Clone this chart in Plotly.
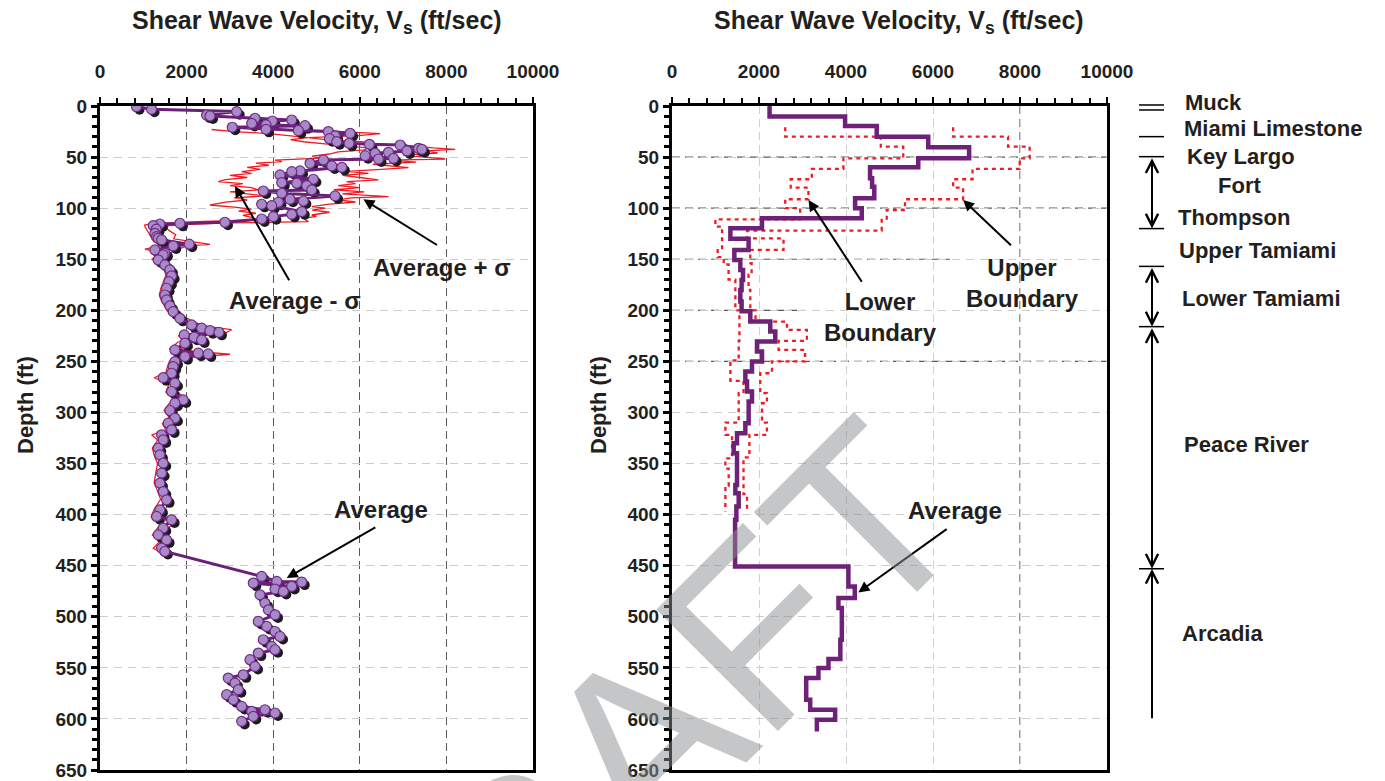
import plotly.graph_objects as go

W, H = 1385, 781

# ---------------- Left panel data: measured average Vs profile ----------------
avg_depth = [0.7, 3.2, 5.5, 8.8, 9.8, 12, 13.7, 14.7, 17, 18.6, 19.3, 20.8, 22.8, 24, 25, 26.7,
             29.3, 32, 34.9, 36.5, 37.5, 38.2, 41.4, 42.4, 44, 45.3, 46.3, 48.6, 51.2, 51.9, 52.8,
             56.1, 58.7, 60, 63.6, 64.3, 67.5, 71.7, 75, 75.6, 78, 82.2, 83.2, 85.4, 88, 91.3, 93,
             94.2, 96.2, 97.5, 103.4, 106, 108.3, 110.6, 113.8, 114.8, 115.5, 117.1, 120.5, 124.6,
             127.9, 129.5, 131.1, 135.3, 137, 140.9, 144.2, 145.8, 150.7, 155.6, 160.5, 166.3,
             171.9, 178.4, 185, 189.8, 195.7, 201.3, 207.8, 214.3, 217.5, 219.9, 221.5, 224.1,
             226.3, 229, 232.2, 238.8, 242, 242.7, 245.3, 250.2, 255.1, 261.6, 265.9, 271.3,
             279.5, 287.7, 290.9, 298.1, 305.6, 310.5, 317, 321.9, 326.8, 334.9, 341.5, 349.6,
             359.4, 369.2, 377.4, 385.5, 395.3, 401.8, 405.1, 413.2, 419.8, 424.7, 432.8, 436.1,
             460.5, 465.4, 466, 467, 470.3, 472.9, 475.2, 478.5, 486.6, 493.2, 498.1, 504.6,
             509.5, 514.4, 519.3, 522.5, 529, 532.3, 535.5, 542, 548.6, 556.8, 560, 564.9, 571.4,
             576.3, 581.2, 587.8, 591, 592.7, 594.2, 597.5, 602.4]
avg_vs = [843, 1190, 3156, 2462, 2540, 3580, 4428, 3980, 3503, 3834, 4735, 3054, 3834, 4580, 5274, 5776,
          5429, 5300, 5468, 5753, 6222, 6932, 7355, 7433, 7087, 6662, 6354, 6123, 6778, 6431, 5159,
          4851, 5353, 5584, 4620, 4428, 4157, 4927, 4196, 4543, 4774, 4890, 3771, 4196, 5429, 4389, 4696,
          4118, 3734, 3965, 4659, 4428, 4003, 3734, 2886, 1845, 1383, 1228, 1300, 1267,
          1306, 1344, 1422, 2060, 1690, 1267, 1498, 1459, 1344, 1498, 1614, 1653,
          1591, 1537, 1498, 1537, 1614, 1690, 1845, 2116, 2347, 2538, 2746, 1945,
          2176, 2347, 1961, 1730, 2268, 2500, 1961, 1730, 1690, 1653, 1459, 1730,
          1653, 1922, 1730, 1614, 1730, 1575, 1653, 1422, 1459, 1344, 1383, 1459,
          1422, 1383, 1459, 1537, 1383, 1306, 1653, 1459, 1344, 1537, 1422, 1498,
          3734, 4081, 4659, 3540, 4428, 4042, 4234, 3695, 3810, 3888, 4042, 3656,
          3849, 4042, 4157, 3771, 3965, 4042, 3656, 3464, 3580, 3309, 2962, 3117, 3194,
          2925, 3078, 3272, 3810, 3503, 4042, 3540, 3272]

# Average + sigma
plus_depth = [23, 25, 27, 29, 31, 33, 35, 37, 39, 41, 42.5, 44, 46, 48, 50, 51.9, 53, 55, 57, 60.4,
              62, 64, 66, 68, 70, 72.4, 74, 76, 78, 80, 82, 84, 86, 88.7, 90, 92, 94, 96, 98.5, 100,
              102, 104, 106.7, 108, 110, 113.2, 114.5, 115.5, 117, 118, 122, 126, 130, 133, 135.5,
              137, 140, 143, 146, 150, 155, 160, 166, 172, 178, 185, 190, 196, 201, 207, 212, 216,
              219, 222, 225, 228, 231, 235, 238, 240, 243, 246, 250, 255, 261, 266, 272, 280, 288,
              291, 298, 305, 311, 317, 322, 327, 335, 342, 350, 359, 369, 377, 385, 395, 402, 405,
              413, 420, 425, 433, 436]
plus_vs = [4600, 5500, 6470, 5968, 4812, 5200, 6046, 6300, 7200, 7700, 8203, 7500, 7800, 7000, 7600,
           7972, 6700, 7300, 6300, 7124, 6500, 5700, 6200, 5600, 6000, 6431, 5700, 5900, 5500, 6000,
           5400, 6100, 5600, 6662, 5800, 5500, 5900, 5300, 4890, 5200, 4900, 5300, 4890, 5000, 4700,
           4812, 3000, 2200, 1600, 1500, 1600, 1750, 1700, 2200, 2539, 2000, 1800, 1650, 1600, 1480,
           1620, 1740, 1780, 1700, 1650, 1620, 1650, 1740, 1820, 1980, 2200, 2500, 3040, 2900, 2250,
           2500, 2100, 1980, 1850, 2150, 3000, 2100, 1850, 1800, 1780, 1580, 1860, 1780, 2050, 1850,
           1730, 1850, 1700, 1780, 1540, 1580, 1460, 1500, 1580, 1540, 1500, 1580, 1660, 1500, 1420,
           1770, 1580, 1460, 1660, 1540, 1620]

# Average - sigma
minus_depth = [23, 25, 27, 29, 31, 33, 35, 37, 39, 41, 43, 45, 47, 49, 51, 53, 54.5, 56, 58, 60, 62,
               64.3, 66, 68, 70, 72, 74.1, 76, 78, 80, 82.2, 84, 86, 88, 90, 92, 94, 96.9, 99, 101,
               103, 105, 107, 109, 111.5, 113, 115, 116.4, 118, 122, 126, 130, 133, 135.5, 137, 140,
               143, 146, 150, 155, 160, 166, 172, 178, 185, 190, 196, 201, 207, 212, 216, 219, 222,
               225, 228, 231, 235, 238, 240, 243, 246, 250, 255, 261, 266, 272, 280, 288, 291, 298,
               305, 311, 317, 322, 327, 335, 342, 350, 359, 369, 377, 385, 395, 402, 405, 413, 420,
               425, 433, 436]
minus_vs = [2578, 3100, 3900, 4300, 4800, 4400, 4700, 5200, 5600, 6200, 6100, 5500, 5300, 4900, 5100,
            4042, 4200, 3600, 3900, 3400, 3700, 3272, 3500, 3000, 3400, 2900, 2731, 3300, 3000, 3500,
            3656, 3000, 3400, 3800, 3100, 3400, 2900, 2539, 3100, 3500, 3200, 3600, 3300, 3500, 3580,
            2400, 1500, 1036, 1036, 1100, 1150, 1200, 1250, 1500, 1400, 1036, 1330, 1330, 1200, 1370,
            1490, 1520, 1460, 1410, 1370, 1410, 1490, 1560, 1710, 1850, 2150, 2250, 2500, 1800, 2150,
            1800, 1700, 1600, 1850, 2200, 1820, 1600, 1560, 1520, 1250, 1600, 1520, 1780, 1600, 1480,
            1600, 1440, 1520, 1200, 1330, 1210, 1250, 1330, 1290, 1250, 1330, 1400, 1250, 1180, 1520,
            1330, 1210, 1400, 1230, 1370]

# ---------------- Right panel data: layered profiles (layer top depth, Vs) ----------------
avg_layer_top = [0, 10.4, 19.6, 30, 40.4, 51.2, 60, 70.7, 79, 90.3, 100, 109.9, 119.7, 130, 140.9,
                 150.7, 160.5, 170.3, 180, 191.5, 201, 211, 220.8, 230.6, 240.4, 250.2, 260, 269.8,
                 279.5, 289.3, 310.6, 320.3, 330.1, 339.9, 371, 379, 392, 405, 450.8, 470.3, 481.7,
                 491.5, 522.5, 541.4, 550.2, 560, 581.2, 591, 600.8, 612.2]
avg_layer_vs = [2243, 3979, 4706, 5890, 6830, 5661, 4553, 4600, 4650, 4209, 4362, 2069, 1342, 1761, 1433,
                1571, 1633, 1600, 1571, 1600, 1800, 2259, 2374, 1954, 2069, 1839, 1686, 1725,
                1839, 1762, 1686, 1495, 1418, 1495, 1456, 1533, 1480, 1450, 4055, 4202, 3826,
                3904, 3870, 3597, 3367, 3085, 3177, 3750, 3330, 3330]

upper_layer_top = [20.8, 30, 39.8, 51.2, 61.6, 71.7, 80, 91.3, 101.8, 111.5, 122, 129.5, 140.9, 153.9,
                   165, 180, 200, 211, 219.2, 230, 238.7, 250, 261.6, 281, 291, 310, 322, 344, 380, 397]
upper_layer_vs = [6463, 7725, 8222, 7993, 6908, 6463, 6692, 5356, 4936, 4821, 1725, 2564, 1800, 1830,
                  1760, 1800, 1920, 2642, 3101, 2450, 3060, 2298, 2029, 2182, 2069, 2182, 1780, 1644,
                  1725, 1725]

lower_layer_top = [20.8, 30, 39.8, 51.2, 61.6, 71.7, 80, 91.3, 100, 110.9, 118, 141, 148, 155, 170,
                   200, 230, 249, 269, 281, 310, 322, 345, 355, 372, 397]
lower_layer_vs = [2603, 4800, 5316, 3940, 3215, 2729, 3137, 2603, 2947, 998, 1151, 1050, 1188, 1300,
                  1456, 1550, 1533, 1342, 1644, 1533, 1227, 1380, 1227, 1303, 1227, 1227]

# dark dashed reference lines in the right panel: (depth, extent in ft/s)
right_dark_lines = [(50, 10000), (100, 10000), (150, 6390), (200, 3016), (250, 10000)]

# Geologic column (right side)
strata_names = ["Muck", "Miami Limestone", "Key Largo", "Fort", "Thompson", "Upper Tamiami",
                "Lower Tamiami", "Peace River", "Arcadia"]
strata_label_x = [1183, 1182, 1185, 1216, 1176, 1177, 1180, 1182, 1180]
strata_label_y = [102, 128, 156, 185, 217, 250, 298, 445, 633]
strata_tick_depths = [-1, 3.9, 30, 49.6, 120, 157, 216, 453]
strata_arrows = [(49.6, 120, True), (157, 216, True), (216, 453, True), (453, 600.8, False)]

# ---------------- geometry helpers ----------------
Y_TOP, Y_BOT = 106, 770
LX0, LX1 = 100, 533
RX0, RX1 = 672, 1107


def px(x):
    return x / W


def py(y):
    return 1 - y / H


def depth_px(d):
    return Y_TOP + d * (Y_BOT - Y_TOP) / 650.0


TXT = '#231F20'
FONT = 'Liberation Sans'
RED = '#ED1C24'
PURPLE = '#6B1F7A'

fig = go.Figure()

# ---- left panel traces ----
fig.add_trace(go.Scatter(x=plus_vs, y=plus_depth, mode='lines', line=dict(color=RED, width=1.3),
                         xaxis='x', yaxis='y', hoverinfo='skip'))
fig.add_trace(go.Scatter(x=minus_vs, y=minus_depth, mode='lines', line=dict(color=RED, width=1.3),
                         xaxis='x', yaxis='y', hoverinfo='skip'))
fig.add_trace(go.Scatter(x=[v + 70 for v in avg_vs], y=[d + 3.0 for d in avg_depth], mode='markers',
                         marker=dict(size=10, color='#1c1c1c'), xaxis='x', yaxis='y', hoverinfo='skip'))
fig.add_trace(go.Scatter(x=avg_vs, y=avg_depth, mode='lines+markers',
                         line=dict(color=PURPLE, width=3),
                         marker=dict(size=10, color='#A98AC8', line=dict(color='#6E2C86', width=1.2)),
                         xaxis='x', yaxis='y'))

# ---- right panel traces ----
fig.add_trace(go.Scatter(x=upper_layer_vs, y=upper_layer_top, mode='lines', line_shape='vh',
                         line=dict(color=RED, width=2.3, dash='4px,4px'), xaxis='x2', yaxis='y2'))
fig.add_trace(go.Scatter(x=lower_layer_vs, y=lower_layer_top, mode='lines', line_shape='vh',
                         line=dict(color=RED, width=2.3, dash='4px,4px'), xaxis='x2', yaxis='y2'))
fig.add_trace(go.Scatter(x=avg_layer_vs, y=avg_layer_top, mode='lines', line_shape='vh',
                         line=dict(color='#6E2277', width=4.5), xaxis='x2', yaxis='y2'))


def xaxis_cfg(domain, gridcolor, anchor):
    return dict(domain=domain, range=[0, 10000], side='top', dtick=2000, tick0=0, anchor=anchor,
                tickformat='d', automargin=False,
                ticks='outside', ticklen=6, tickwidth=2, tickcolor='black',
                minor=dict(dtick=400, ticks='outside', ticklen=5, tickwidth=2, tickcolor='black',
                           showgrid=False),
                showline=True, linewidth=3, linecolor='black', mirror=True,
                showgrid=True, gridcolor=gridcolor, gridwidth=1.2, griddash='8px,5px',
                zeroline=False, ticklabelstandoff=11,
                tickfont=dict(family=FONT, size=19, color=TXT, weight='bold'))


def yaxis_cfg(anchor):
    return dict(domain=[py(Y_BOT), py(Y_TOP)], range=[650, 0], anchor=anchor, dtick=50, tick0=0,
                automargin=False,
                ticks='outside', ticklen=6, tickwidth=2.5, tickcolor='black',
                minor=dict(dtick=10, ticks='outside', ticklen=5, tickwidth=2.5, tickcolor='black',
                           showgrid=False),
                showline=True, linewidth=3, linecolor='black', mirror=True,
                showgrid=True, gridcolor='#cccccc', gridwidth=1, griddash='8px,6px',
                zeroline=False,
                tickfont=dict(family=FONT, size=19, color=TXT, weight='bold'))


shapes = []
for d, xe in right_dark_lines:
    shapes.append(dict(type='line', xref='x2', yref='y2', x0=0, x1=xe, y0=d, y1=d, layer='below',
                       line=dict(color='#5a5a5a', width=1.2, dash='8px,5px')))
shapes.append(dict(type='line', xref='x2', yref='y2', x0=8000, x1=8000, y0=0, y1=650, layer='below',
                   line=dict(color='#5a5a5a', width=1.2, dash='8px,5px')))
for d in strata_tick_depths:
    yy = py(depth_px(d))
    shapes.append(dict(type='line', xref='paper', yref='paper', x0=px(1139), x1=px(1164), y0=yy, y1=yy,
                       line=dict(color='black', width=1.5)))

ann = []
C = dict(xanchor='center', yanchor='middle')
# titles
for cx in [317, 899]:
    ann.append(dict(xref='paper', yref='paper', x=px(cx), y=py(22), showarrow=False, **C,
                    text='<b>Shear Wave Velocity, V<sub>s</sub> (ft/sec)</b>',
                    font=dict(family=FONT, size=25, color=TXT)))
for cx in [25, 598]:
    ann.append(dict(xref='paper', yref='paper', x=px(cx), y=py(405), showarrow=False, textangle=-90, **C,
                    text='<b>Depth (ft)</b>', font=dict(family=FONT, size=22, color=TXT)))

# callout labels
labels = [("Average + σ", 442, 267), ("Average - σ", 295, 300), ("Average", 381, 509),
          ("Lower<br>Boundary", 880, 317), ("Upper<br>Boundary", 1023, 283), ("Average", 955, 511)]
for t, x, y in labels:
    ann.append(dict(xref='paper', yref='paper', x=px(x), y=py(y), showarrow=False, **C,
                    text='<b>' + t + '</b>', font=dict(family=FONT, size=24, color=TXT)))

# callout arrows (head, tail) in data units
callouts = [('x', 'y', 6083, 91.3, 7817, 137), ('x', 'y', 3117, 78.3, 4388, 172),
            ('x', 'y', 4312, 462, 6393, 411.6), ('x2', 'y2', 3138, 92, 4385, 173.5),
            ('x2', 'y2', 6693, 92, 7826, 137.7), ('x2', 'y2', 4284, 476.2, 6349, 413.2)]
for xr, yr, hx, hy, tx, ty in callouts:
    ann.append(dict(xref=xr, yref=yr, axref=xr, ayref=yr, x=hx, y=hy, ax=tx, ay=ty, text='',
                    showarrow=True, arrowhead=2, arrowsize=1.1, arrowwidth=2, arrowcolor='black'))

# strata labels
for name, x, y in zip(strata_names, strata_label_x, strata_label_y):
    ann.append(dict(xref='paper', yref='paper', x=px(x), y=py(y), xanchor='left', yanchor='middle',
                    showarrow=False,
                    text='<b>' + name + '</b>', font=dict(family=FONT, size=22, color=TXT)))
# strata arrows
for top, bot, both in strata_arrows:
    ytop, ybot = depth_px(top), depth_px(bot)
    if both:
        ann.append(dict(xref='paper', yref='paper', x=px(1152), y=py(ybot), ax=0, ay=-(ybot - ytop),
                        text='', showarrow=True, arrowhead=5, arrowside='end+start', arrowsize=1.2,
                        arrowwidth=2, arrowcolor='black', standoff=0, startstandoff=0))
    else:
        ann.append(dict(xref='paper', yref='paper', x=px(1152), y=py(ytop), ax=0, ay=(ybot - ytop),
                        text='', showarrow=True, arrowhead=5, arrowsize=1.2,
                        arrowwidth=2, arrowcolor='black', standoff=0))

# watermark
ann.append(dict(xref='paper', yref='paper', x=px(623), y=py(763), text='DRAFT', showarrow=False, **C,
                textangle=-45, font=dict(family=FONT, size=250, color='rgba(140,142,146,0.5)')))

fig.update_layout(
    width=W, height=H, margin=dict(l=0, r=0, t=0, b=0, autoexpand=False),
    paper_bgcolor='white', plot_bgcolor='white', showlegend=False,
    xaxis=xaxis_cfg([px(LX0), px(LX1)], '#5a5a5a', 'y'),
    yaxis=yaxis_cfg('x'),
    xaxis2=xaxis_cfg([px(RX0), px(RX1)], '#d0d0d0', 'y2'),
    yaxis2=yaxis_cfg('x2'),
    shapes=shapes, annotations=ann,
)

fig.write_html("out.html")
